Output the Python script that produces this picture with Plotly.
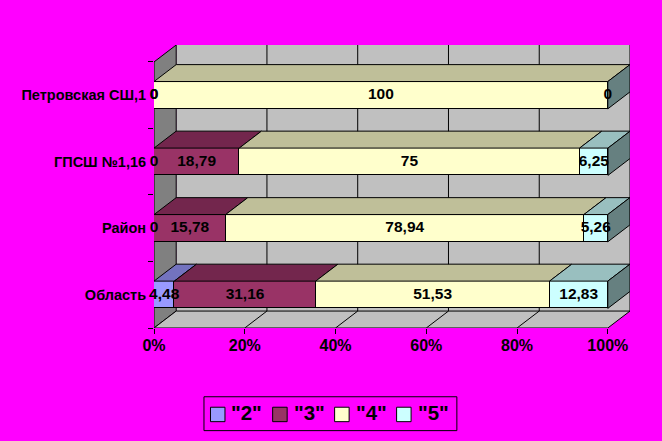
import plotly.graph_objects as go

# Data, bottom row first
categories = ["Область", "Район", "ГПСШ №1,16", "Петровская СШ,1"]
series_names = ['"2"', '"3"', '"4"', '"5"']
grade_2 = [4.48, 0, 0, 0]
grade_3 = [31.16, 15.78, 18.79, 0]
grade_4 = [51.53, 78.94, 75, 100]
grade_5 = [12.83, 5.26, 6.25, 0]
x_ticks = [0, 20, 40, 60, 80, 100]
x_tick_labels = ["0%", "20%", "40%", "60%", "80%", "100%"]

front_colors = ["#9999FF", "#993366", "#FFFFCC", "#CCFFFF"]
top_colors = ["#7373BF", "#73264D", "#BFBF99", "#99BFBF"]
side_color = "#668080"
W, H = 662, 441
L, R, T, B = 153.5, 629.7, 44.5, 328.5
DX = 22.2 / 4.54          # depth in x-axis units
DY = 17 / 66.75           # depth in y-axis units
BAR = 0.41
FONT = "Liberation Sans"

all_series = [grade_2, grade_3, grade_4, grade_5]
ypos = [i + 0.5 for i in range(len(categories))]
fig = go.Figure()

# Front faces
for name, vals, col in zip(series_names, all_series, front_colors):
    fig.add_trace(go.Bar(y=ypos, x=vals, orientation="h", width=BAR, name=name,
                         marker=dict(color=col, line=dict(color="black", width=1)),
                         showlegend=False, hoverinfo="skip"))

def poly(xs, ys, col):
    fig.add_trace(go.Scatter(x=xs, y=ys, mode="lines", fill="toself", fillcolor=col,
                             line=dict(color="black", width=1), showlegend=False,
                             hoverinfo="skip", cliponaxis=False))

# Top and side faces derived from the values
for r, y in enumerate(ypos):
    yt, yb = y + BAR / 2, y - BAR / 2
    a = 0
    for vals, col in zip(all_series, top_colors):
        b = a + vals[r]
        if vals[r] > 0:
            poly([a, b, b + DX, a + DX, a], [yt, yt, yt + DY, yt + DY, yt], col)
        a = b
    poly([a, a, a + DX, a + DX, a], [yb, yt, yt + DY, yb + DY, yb], side_color)

# Data labels
for idx, vals in enumerate(all_series):
    starts = [sum(s[r] for s in all_series[:idx]) for r in range(len(ypos))]
    fig.add_trace(go.Scatter(
        x=[s + v / 2 for s, v in zip(starts, vals)], y=ypos, mode="text",
        text=[f"{v:g}".replace(".", ",") for v in vals], textposition="middle center",
        textfont=dict(family=FONT, size=15.5, color="black", weight="bold"),
        showlegend=False, hoverinfo="skip", cliponaxis=False))

# Walls, floor and grid
n = len(categories)
shapes = [
    dict(type="rect", x0=DX, x1=100 + DX, y0=DY, y1=n + DY, fillcolor="#C0C0C0", line_width=0),
    dict(type="path", path=f"M 0 0 L {DX} {DY} L {DX} {n+DY} L 0 {n} Z", fillcolor="#808080",
         line=dict(color="black", width=1)),
    dict(type="path", path=f"M 0 0 L 100 0 L {100+DX} {DY} L {DX} {DY} Z", fillcolor="#C0C0C0",
         line=dict(color="black", width=1)),
    dict(type="line", x0=100 + DX, x1=100 + DX, y0=DY, y1=n + DY, line=dict(color="black", width=1)),
]
for t in x_ticks[1:-1]:
    shapes.append(dict(type="line", x0=t + DX, x1=t + DX, y0=DY, y1=n + DY, line=dict(color="black", width=1)))
    shapes.append(dict(type="line", x0=t, x1=t + DX, y0=0, y1=DY, line=dict(color="black", width=1)))
for s in shapes:
    s["layer"] = "below"

PW, PH = R - L, B - T
px = lambda v: (v - L) / PW
py = lambda v: (B - v) / PH

# Legend drawn in paper coordinates
annotations = []
shapes.append(dict(type="rect", xref="paper", yref="paper", x0=px(203.5), x1=px(456.5),
                   y0=py(431.5), y1=py(397.5), line=dict(color="black", width=1),
                   fillcolor="rgba(0,0,0,0)"))
swatch_left = [210, 272.2, 334.2, 396.2]
text_left = [229, 291.2, 353.5, 415.7]
for name, col, sx, tx in zip(series_names, front_colors, swatch_left, text_left):
    shapes.append(dict(type="rect", xref="paper", yref="paper", x0=px(sx), x1=px(sx + 14.5),
                       y0=py(422.5), y1=py(408), fillcolor=col, line=dict(color="black", width=1)))
    annotations.append(dict(text=name, xref="paper", yref="paper", x=px(tx), y=py(413.5),
                            xanchor="left", yanchor="middle", showarrow=False,
                            font=dict(family=FONT, size=20.5, color="black", weight="bold")))

fig.update_layout(
    width=W, height=H, autosize=False, barmode="stack", bargap=0, showlegend=False,
    paper_bgcolor="#FF00FF", plot_bgcolor="#FF00FF",
    margin=dict(l=L, r=W - R, t=T, b=H - B, pad=0), shapes=shapes, annotations=annotations,
    font=dict(family=FONT, color="black"),
    xaxis=dict(range=[0, 100 + DX], tickvals=x_ticks, ticktext=x_tick_labels, showgrid=False,
               zeroline=False, showline=False, ticks="outside", ticklen=5, tickcolor="black",
               ticklabelstandoff=-2,
               tickfont=dict(family=FONT, size=16, color="black", weight="bold")),
    yaxis=dict(range=[0, n + DY], tickvals=ypos, ticktext=categories, showgrid=False,
               zeroline=False, showline=False, ticks="outside", ticklen=4, tickcolor="rgba(0,0,0,0)",
               tickfont=dict(family=FONT, size=14.5, color="black", weight="bold"),
               minor=dict(tickvals=list(range(n + 1)), ticks="outside", ticklen=5, tickcolor="black")),
)
fig.write_html("out.html", config={"displayModeBar": False},
               post_script="document.body.style.margin='0';document.documentElement.style.background='#FF00FF';document.body.style.overflow='hidden';")
